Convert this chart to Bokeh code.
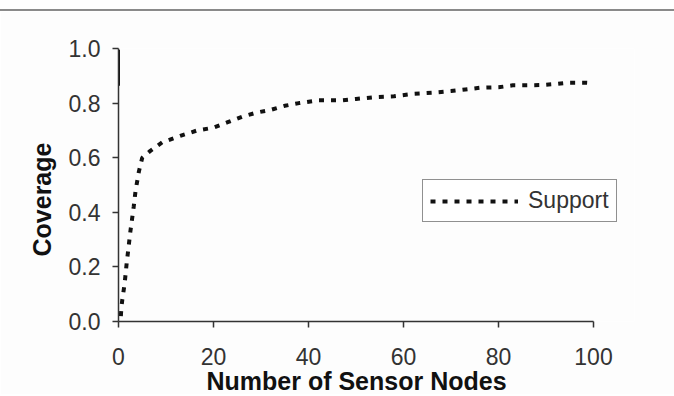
from bokeh.plotting import figure
from bokeh.models import Legend, LegendItem, FixedTicker, Title
from bokeh.embed import file_html
from bokeh.resources import INLINE

# Data
nodes = [0.5, 0.6, 0.8, 1.3, 1.7, 2.5, 3.2, 3.6, 4.3, 5.0, 6.7, 9.2, 13, 16.6, 20,
         23, 26, 29, 32, 35, 38, 42, 47, 50, 54, 58, 62, 66, 70, 73, 76, 80, 83,
         86, 89, 92, 95, 98, 100]
support = [0.02, 0.05, 0.08, 0.14, 0.21, 0.33, 0.42, 0.48, 0.55, 0.60, 0.625,
           0.656, 0.68, 0.70, 0.71, 0.73, 0.75, 0.765, 0.775, 0.79, 0.80, 0.81,
           0.81, 0.815, 0.822, 0.825, 0.834, 0.838, 0.844, 0.85, 0.856, 0.858,
           0.865, 0.865, 0.866, 0.87, 0.875, 0.875, 0.873]
mark_x = [0, 0]
mark_y = [0.864, 0.995]
x_ticks = [0, 20, 40, 60, 80, 100]
y_ticks = [0.0, 0.2, 0.4, 0.6, 0.8, 1.0]
y_tick_labels = ["0.0", "0.2", "0.4", "0.6", "0.8", "1.0"]
x_axis_max = 100
x_title = "Number of Sensor Nodes"
y_title = "Coverage"
series_name = "Support"

FONT = "Liberation Sans"
BG = "#fdfdfd"

# frame spans 118..634 px; the x axis itself stops at 100 (593 px)
FRAME_LEFT, AXIS_END, FRAME_RIGHT = 118, 593, 634
x_end = x_axis_max * (FRAME_RIGHT - FRAME_LEFT) / (AXIS_END - FRAME_LEFT)

p = figure(width=674, height=385, output_backend="svg", toolbar_location=None,
           x_range=(0, x_end), y_range=(0, 1.0),
           min_border_left=FRAME_LEFT, min_border_right=674 - FRAME_RIGHT,
           min_border_top=37, min_border_bottom=75, background_fill_color=BG,
           border_fill_color=BG, outline_line_color=None)
p.styles = {"margin-top": "9px", "border-top": "2px solid #8a8a8a"}

p.xgrid.visible = False
p.ygrid.visible = False

r = p.line(nodes, support, line_color="#111111", line_width=4,
           line_dash="5 7", line_cap="butt")
p.line(mark_x, mark_y, line_color="#111111", line_width=3)

for ax in (p.xaxis[0], p.yaxis[0]):
    ax.axis_line_color = "#333333"
    ax.axis_line_width = 1.5
    ax.major_tick_line_color = "#333333"
    ax.major_tick_line_width = 1.5
    ax.major_tick_in = 0
    ax.major_tick_out = 6
    ax.minor_tick_line_color = None
    ax.major_label_text_font = FONT
    ax.major_label_text_font_size = "23px"
    ax.major_label_text_color = "#333333"

p.xaxis.bounds = (0, x_axis_max)
p.xaxis.ticker = FixedTicker(ticks=x_ticks)
p.yaxis.ticker = FixedTicker(ticks=y_ticks)
p.yaxis.major_label_overrides = {t: l for t, l in zip(y_ticks, y_tick_labels)}
p.xaxis.major_label_standoff = 20
p.yaxis.major_label_standoff = 12

# axis titles as positioned titles (centred on the axis, not on the frame)
xt = Title(text=x_title, align="left", offset=88, vertical_align="top",
           standoff=-1, text_font=FONT, text_font_style="bold",
           text_font_size="25px", text_color="#111111")
p.add_layout(xt, "below")
yt = Title(text=y_title, align="left", offset=65, vertical_align="bottom",
           standoff=20, text_font=FONT, text_font_style="bold",
           text_font_size="25px", text_color="#111111")
p.add_layout(yt, "left")

legend = Legend(items=[LegendItem(label=series_name, renderers=[r])],
                location=(304, 99), border_line_color="#222222",
                border_line_width=1.5, background_fill_color="white",
                background_fill_alpha=1.0, label_text_font=FONT,
                label_text_font_size="23px", label_text_color="#333333",
                glyph_width=88, glyph_height=22, padding=7, margin=0,
                label_standoff=10, spacing=0)
p.add_layout(legend)

open("out.html", "w").write(file_html(p, INLINE))
